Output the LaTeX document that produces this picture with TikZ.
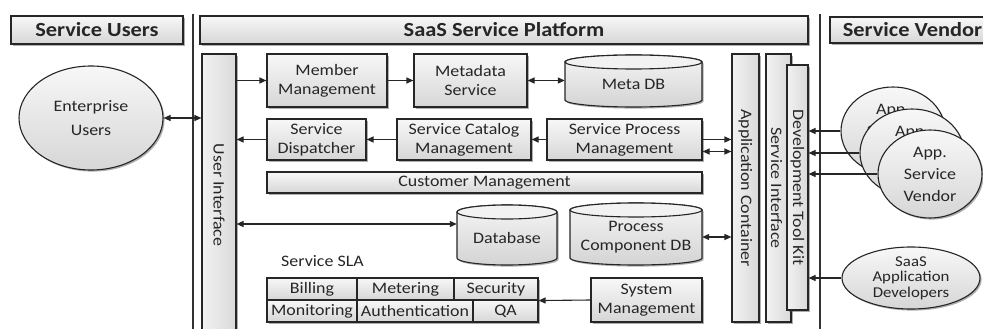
\documentclass[tikz,border=0pt]{standalone}
\usepackage{fontspec}
\setmainfont{Carlito}[FakeStretch=1.12]
\usepackage{graphicx}
\usetikzlibrary{arrows.meta,shadows,calc,shapes.geometric}

% rectangular block given by its corners: [options]{name}{x1}{y1}{x2}{y2}{text}
\newcommand\blk[7][]{%
  \node[box,#1,minimum width={(#5-#3)*1pt},minimum height={(#6-#4)*1pt}]
    (#2) at ({(#3+#5)/2},{(#4+#6)/2}) {#7};}

% database cylinder: {name}{x1}{y1}{x2}{y2}{text}
\def\cylry{7}
\newcommand\cyl[6]{%
  \pgfmathsetmacro\cylrx{(#4-#2)/2}%
  \path[cylbody] (#2,#3+\cylry) -- (#2,#5-\cylry)
    arc[start angle=180,end angle=0,x radius=\cylrx,y radius=\cylry]
    -- (#4,#3+\cylry)
    arc[start angle=0,end angle=-180,x radius=\cylrx,y radius=\cylry] -- cycle;
  \draw[cyltop] ({(#2+#4)/2},#3+\cylry) ellipse[x radius=\cylrx,y radius=\cylry];
  \node[plain,minimum width={(#4-#2)*1pt},minimum height={(#5-#3)*1pt}]
    (#1) at ({(#2+#4)/2},{(#3+#5)/2+3}) {#6};}

\begin{document}
\begin{tikzpicture}[x=1pt,y=-1pt,
  txt/.style={font=\fontsize{16}{19}\selectfont,text=black!85,align=center},
  shade/.style={drop shadow={shadow xshift=1.6pt,shadow yshift=-1.6pt,opacity=0.45,fill=black!70}},
  box/.style={txt,draw=black!85,line width=1.1pt,top color=gray!6,bottom color=gray!32,
    shade,inner sep=0pt},
  hdr/.style={font=\fontsize{20}{24}\selectfont\bfseries,text=black!85},
  vbar/.style={left color=gray!10,right color=gray!30},
  cell/.style={draw=black!85,line width=1.1pt,top color=gray!6,bottom color=gray!32,txt,inner sep=0pt},
  plain/.style={txt,inner sep=0pt},
  cylbody/.style={draw=black!85,line width=1.1pt,top color=gray!8,bottom color=gray!34,shade},
  cyltop/.style={draw=black!85,line width=1.1pt,fill=gray!10},
  oval/.style={ellipse,txt,draw=black!85,line width=1.1pt,top color=gray!6,bottom color=gray!32,
    shade,inner sep=0pt},
  sep/.style={draw=black!80,line width=1.4pt},
  arr/.style={draw=black!85,line width=1.1pt,-{Triangle[length=7pt,width=6pt]}},
  darr/.style={draw=black!85,line width=1.1pt,{Triangle[length=7pt,width=6pt]}-{Triangle[length=7pt,width=6pt]}}]
\useasboundingbox (0,0) rectangle (983,329);
\fill[white] (0,0) rectangle (983,329);

% column headers and separators
\blk[hdr]{hu}{11}{16}{183}{44}{Service Users}
\blk[hdr]{hp}{200}{16}{808}{44}{SaaS Service Platform}
\blk[hdr]{hv}{830}{17}{995}{43}{Service Vendor}
\draw[sep] (193,14) -- (193,332);
\draw[sep] (820,14) -- (820,332);

% service users
\node[oval,minimum width=144pt,minimum height=104pt,
  font=\fontsize{16}{24}\selectfont] (eu) at (91,118) {Enterprise\\Users};

% platform: vertical bars
\blk[vbar]{ui}{202}{54}{236}{336}{\rotatebox{-90}{User Interface}}
\blk[vbar]{ac}{732}{54}{759}{322}{\rotatebox{-90}{Application Container}}
\blk[vbar]{si}{766}{54}{791}{322}{\hspace*{-4pt}\rotatebox{-90}{Service Interface}}
\blk[vbar]{dtk}{787}{65}{808}{310}{\rotatebox{-90}{Development Tool Kit}}

% platform: inner blocks
\blk{mm}{267}{54}{387}{107}{Member\\Management}
\blk{ms}{414}{54}{527}{107}{Metadata\\Service}
\cyl{mdb}{565}{55}{702}{107}{Meta DB}
\blk{sd}{267}{119}{366}{160}{Service\\Dispatcher}
\blk{scm}{397}{119}{531}{160}{Service Catalog\\Management}
\blk{spm}{547}{119}{702}{160}{Service Process\\Management}
\blk{cm}{267}{172}{702}{193}{Customer Management}
\cyl{db}{457}{205}{557}{265}{Database}
\cyl{pcdb}{570}{203}{702}{265}{Process\\Component DB}

% service level agreement table
\node[plain,anchor=west] (sla) at (281,261) {Service SLA};
\blk[cell]{bil}{267}{278}{357}{300}{Billing}
\blk[cell]{met}{357}{278}{454}{300}{Metering}
\blk[cell]{sec}{454}{278}{538}{300}{Security}
\blk[cell]{mon}{267}{300}{357}{322}{Monitoring}
\blk[cell]{aut}{357}{300}{473}{322}{Authentication}
\blk[cell]{qa}{473}{300}{538}{322}{QA}
\blk{sm}{591}{278}{702}{322}{System\\Management}

% platform connectors
\draw[darr] (eu.east) -- (eu.east -| ui.west);
\draw[arr] (ui.east |- mm.west) -- (mm.west);
\draw[arr] (mm.east) -- (ms.west);
\draw[darr] (ms.east) -- (mdb.west |- ms.east);
\draw[arr] (scm.west) -- (sd.east);
\draw[arr] (sd.west) -- (sd.west -| ui.east);
\draw[arr] (spm.west) -- (scm.east);
\draw[arr] (spm.east) -- (spm.east -| ac.west);
\coordinate (spmlo) at ($(spm.east)+(0,12)$);
\draw[darr] (spmlo) -- (spmlo -| ac.west);
\coordinate (dbin) at ($(db.west)+(0,-14)$);
\draw[darr] (dbin -| ui.east) -- (dbin);
\draw[darr] (pcdb.east) -- (pcdb.east -| ac.west);
\draw[arr] (sm.west) -- (sec.south east);

% service vendors
\node[oval,minimum width=104pt,minimum height=88pt,font=\fontsize{16}{22}\selectfont] (e1) at (893,131) {App.\\Service\\Vendor};
\draw[arr] (e1.west) -- (e1.west -| dtk.east);
\node[oval,minimum width=104pt,minimum height=88pt,font=\fontsize{16}{22}\selectfont] (e2) at (912,153) {App.\\Service\\Vendor};
\draw[arr] (e2.west) -- (e2.west -| dtk.east);
\node[oval,minimum width=104pt,minimum height=88pt,font=\fontsize{16}{22}\selectfont] (e3) at (930,174) {App.\\Service\\Vendor};
\draw[arr] (e3.west) -- (e3.west -| dtk.east);
\node[oval,minimum width=138pt,minimum height=62pt,font=\fontsize{15}{15.5}\selectfont] (sad) at (911,278) {SaaS\\Application\\Developers};
\draw[arr] (sad.west) -- (sad.west -| dtk.east);
\end{tikzpicture}
\end{document}
